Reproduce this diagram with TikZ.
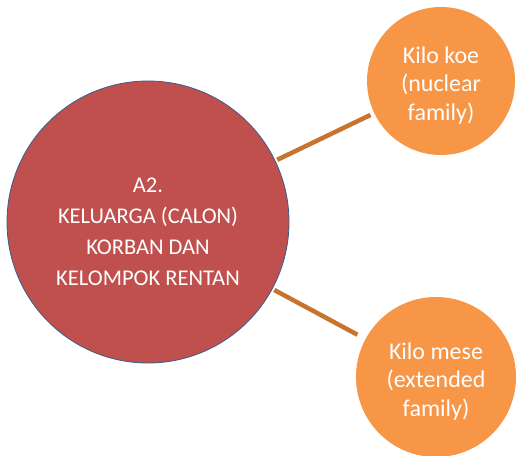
\documentclass[tikz,border=0pt]{standalone}
\usepackage{fontspec}
\setmainfont{Carlito}
\usepackage{tikz}
\definecolor{korban}{HTML}{C0504D}
\definecolor{korbanrand}{HTML}{385D8A}
\definecolor{kilo}{HTML}{F79646}
\definecolor{tali}{HTML}{C8742F}
\newcommand{\turun}[1]{\rule{0pt}{#1}}
\tikzset{pusat/.style = {circle, fill=korban, draw=korbanrand, line width=.8pt,
    minimum size=282pt, inner sep=0pt, align=center, text=white,
    font=\fontsize{22.5}{31}\selectfont},
  cabang/.style = {circle, fill=kilo, inner sep=0pt, align=center, text=white,
    font=\fontsize{24}{28.5}\selectfont},
  tali/.style = {draw=tali, line width=4.5pt}}

\begin{document}
\begin{tikzpicture}[x=1pt, y=-1pt]
      \useasboundingbox (0,0) rectangle (516,455);
      \node[pusat] (keluarga) at (148,222)
        {\turun{34pt}A2.\\KELUARGA (CALON)\\KORBAN DAN\\KELOMPOK RENTAN};
      \node[cabang, minimum size=148pt] (koe) at (441,81)
        {\turun{25pt}Kilo koe\\(nuclear\\family)};
      \node[cabang, minimum size=160pt] (mese) at (436,377)
        {\turun{25pt}Kilo mese\\(extended\\family)};
      \path[tali, shorten <=2pt, shorten >=4pt] (keluarga) -- (koe);
      \path[tali, shorten <=2pt, shorten >=9pt] (keluarga) -- (mese);
    \end{tikzpicture}
\end{document}
